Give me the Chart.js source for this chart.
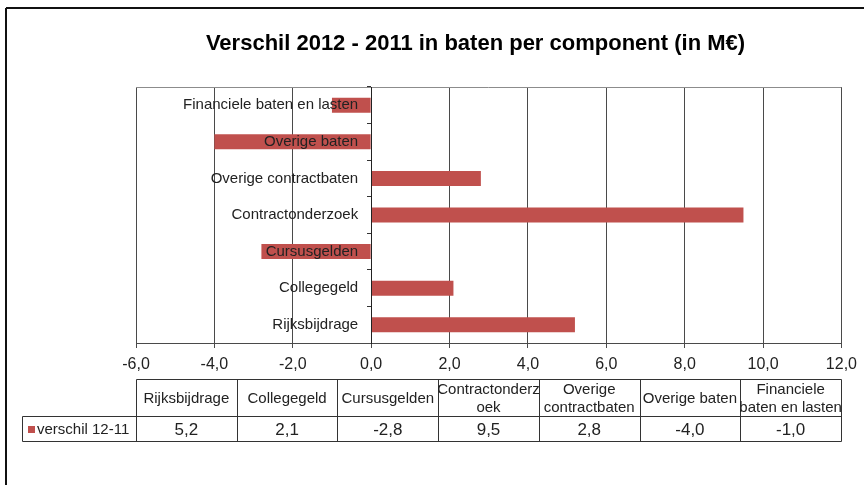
<!DOCTYPE html>
<html><head><meta charset="utf-8">
<script src="https://cdn.jsdelivr.net/npm/chart.js@4"></script>
<style>html,body{margin:0;padding:0;background:#fff}</style>
</head><body>
<canvas id="c" width="864" height="485"></canvas>
<script>
const titleText = 'Verschil 2012 - 2011 in baten per component (in M€)';
const categories = ['Rijksbijdrage', 'Collegegeld', 'Cursusgelden', 'Contractonderzoek', 'Overige contractbaten', 'Overige baten', 'Financiele baten en lasten'];
const values = [5.2, 2.1, -2.8, 9.5, 2.8, -4.0, -1.0];
const seriesName = 'verschil 12-11';
const tableHeaders = [['Rijksbijdrage'], ['Collegegeld'], ['Cursusgelden'], ['Contractonderz', 'oek'], ['Overige', 'contractbaten'], ['Overige baten'], ['Financiele', 'baten en lasten']];
const xMin = -6, xMax = 12, xStep = 2;

const fmt = v => Number(v).toFixed(1).replace('.', ',');
const barColor = '#C0504D';
const FONT = '"Liberation Sans", Arial, sans-serif';

const framePlugin = {
  id: 'frame',
  beforeDraw(chart) {
    const ctx = chart.ctx;
    ctx.save();
    ctx.fillStyle = '#fff';
    ctx.fillRect(0, 0, chart.width, chart.height);
    ctx.strokeStyle = '#111';
    ctx.lineWidth = 2;
    ctx.beginPath();
    ctx.moveTo(6, 8); ctx.lineTo(chart.width, 8);
    ctx.moveTo(6, 8); ctx.lineTo(6, chart.height);
    ctx.stroke();
    ctx.restore();
  },
  beforeDatasetsDraw(chart) {
    const ca = chart.chartArea, ctx = chart.ctx;
    ctx.save();
    ctx.strokeStyle = '#8c8c8c';
    ctx.lineWidth = 1;
    ctx.beginPath();
    ctx.moveTo(ca.left, Math.round(ca.top) + 0.5);
    ctx.lineTo(ca.right, Math.round(ca.top) + 0.5);
    ctx.stroke();
    ctx.restore();
  }
};

const tablePlugin = {
  id: 'datatable',
  afterDraw(chart) {
    const ctx = chart.ctx;
    const xs = chart.scales.x;
    const left = Math.round(xs.left), right = Math.round(xs.right);
    const n = categories.length;
    const colW = (right - left) / n;
    const top = Math.round(xs.bottom) + 6.5;
    const mid = top + 37;
    const bot = mid + 25;
    const legLeft = 22.5;
    ctx.save();
    ctx.strokeStyle = '#333';
    ctx.lineWidth = 1;
    ctx.beginPath();
    ctx.moveTo(left + 0.5, top); ctx.lineTo(right + 0.5, top);
    ctx.moveTo(legLeft, mid); ctx.lineTo(right + 0.5, mid);
    ctx.moveTo(legLeft, bot); ctx.lineTo(right + 0.5, bot);
    ctx.moveTo(legLeft, mid); ctx.lineTo(legLeft, bot);
    for (let i = 0; i <= n; i++) {
      const x = Math.round(left + i * colW) + 0.5;
      ctx.moveTo(x, top); ctx.lineTo(x, bot);
    }
    ctx.stroke();
    ctx.fillStyle = '#222';
    ctx.textAlign = 'center';
    ctx.textBaseline = 'middle';
    ctx.font = '15px ' + FONT;
    const hc = (top + mid) / 2 + 1;
    tableHeaders.forEach((lines, i) => {
      const cx = left + (i + 0.5) * colW;
      const lh = 18;
      const y0 = hc - (lines.length - 1) * lh / 2;
      lines.forEach((t, j) => ctx.fillText(t, cx, y0 + j * lh));
    });
    ctx.font = '17px ' + FONT;
    const vc = (mid + bot) / 2 + 1;
    values.forEach((v, i) => {
      ctx.fillText(fmt(v), left + (i + 0.5) * colW, vc);
    });
    ctx.fillStyle = barColor;
    ctx.fillRect(28, Math.round(vc) - 4, 7, 7);
    ctx.fillStyle = '#222';
    ctx.textAlign = 'left';
    ctx.font = '15px ' + FONT;
    ctx.fillText(seriesName, 37, vc);
    ctx.restore();
  }
};

new Chart(document.getElementById('c'), {
  type: 'bar',
  data: {
    labels: categories,
    datasets: [{
      label: seriesName,
      data: values,
      xAxisID: 'x',
      yAxisID: 'y',
      backgroundColor: barColor,
      borderWidth: 0,
      barPercentage: 0.41,
      categoryPercentage: 1
    }]
  },
  options: {
    indexAxis: 'y',
    responsive: false,
    animation: false,
    devicePixelRatio: 1,
    layout: { padding: { left: 106, right: 19, top: 0, bottom: 112 } },
    plugins: {
      legend: { display: false },
      tooltip: { enabled: false },
      title: {
        display: true,
        text: titleText,
        color: '#000',
        font: { family: FONT, size: 22, weight: 'bold', lineHeight: 1.2 },
        padding: { top: 31, bottom: 29.6 }
      }
    },
    scales: {
      x: {
        type: 'linear',
        position: 'bottom',
        min: xMin, max: xMax,
        ticks: {
          stepSize: xStep,
          callback: v => fmt(v),
          color: '#222',
          font: { family: FONT, size: 16 },
          padding: 7,
          maxRotation: 0
        },
        grid: { color: '#4a4a4a', tickLength: 5, lineWidth: 1 },
        border: { color: '#4a4a4a' },
        afterFit: s => { s.height = 30; }
      },
      y: {
        type: 'category',
        position: { x: 0 },
        reverse: true,
        ticks: { display: false },
        grid: { offset: true, drawOnChartArea: false, tickLength: 4, color: '#333' },
        border: { color: '#222', z: 1 },
        afterFit: s => { s.width = 0; }
      },
      ylab: {
        type: 'category',
        labels: categories,
        position: { x: -0.33 },
        reverse: true,
        ticks: {
          z: 2,
          color: '#222',
          font: { family: FONT, size: 15 }
        },
        grid: { display: false },
        border: { display: false },
        afterFit: s => { s.width = 0; }
      },
      pad: {
        type: 'linear',
        position: 'left',
        display: true,
        ticks: { display: false },
        grid: { display: false },
        border: { display: false },
        afterFit: s => { s.width = 30; }
      }
    }
  },
  plugins: [framePlugin, tablePlugin]
});
</script>
</body></html>
